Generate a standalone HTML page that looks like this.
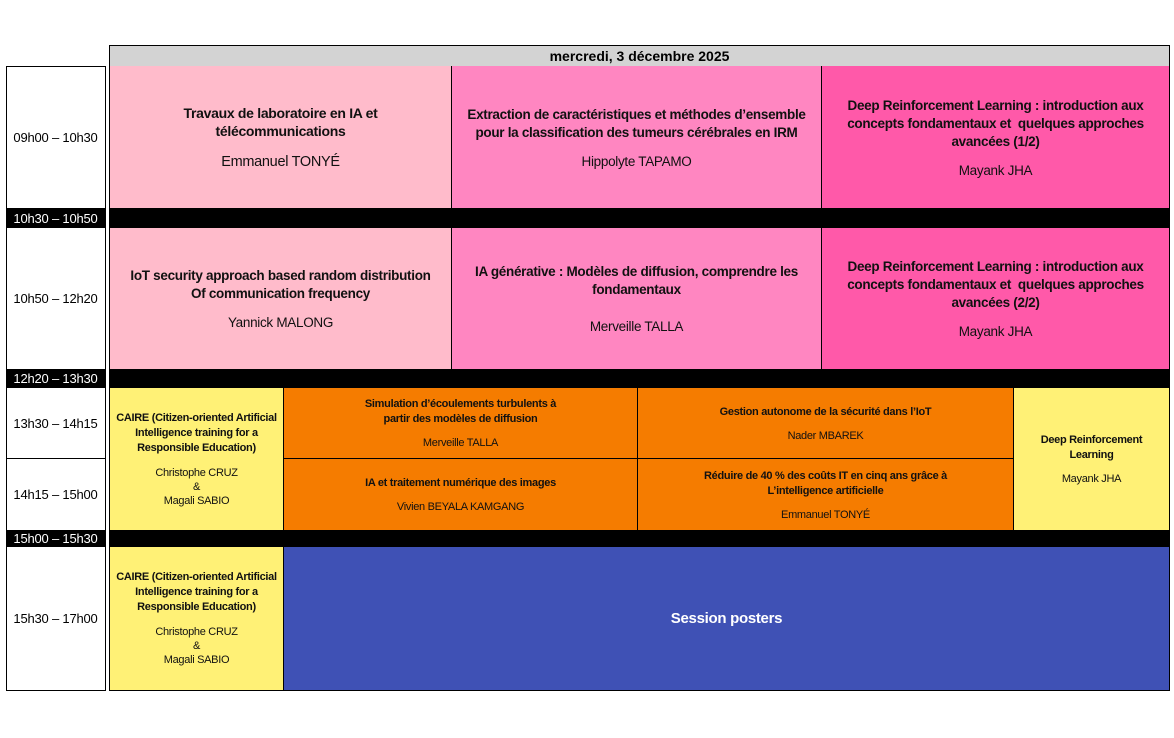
<!DOCTYPE html>
<html><head><meta charset="utf-8"><style>
*{margin:0;padding:0;box-sizing:border-box}
body{width:1174px;height:738px;background:#fff;position:relative;font-family:"Liberation Sans",sans-serif;overflow:hidden}
.a{position:absolute}
.c{position:absolute;display:flex;flex-direction:column;align-items:center;justify-content:center;text-align:center;color:#111;border-left:1px solid #000;letter-spacing:-0.3px}
.t{font-weight:bold;font-size:13.5px;line-height:18px}
.n{font-size:13.5px;margin-top:12px}
.s .t{font-size:11px;line-height:15px}
.s .n{font-size:11px;margin-top:10px}
.tm{position:absolute;left:6px;width:99px;font-size:13px;display:flex;align-items:center;justify-content:center;letter-spacing:-0.2px}
.blk{background:#000;color:#fff}
</style></head><body>
<div class="a" style="left:109px;top:45px;width:1061px;height:22px;background:#d3d3d3;border:1px solid #000;font-weight:bold;font-size:14px;text-align:center;line-height:20px">mercredi, 3 décembre 2025</div>
<div class="a" style="left:6px;top:66px;width:100px;height:625px;border:1px solid #000"></div>
<div class="tm" style="top:66px;height:142px">09h00 – 10h30</div>
<div class="tm blk" style="top:208px;height:20px">10h30 – 10h50</div>
<div class="tm" style="top:228px;height:141px">10h50 – 12h20</div>
<div class="tm blk" style="top:369px;height:19px">12h20 – 13h30</div>
<div class="tm" style="top:388px;height:71px">13h30 – 14h15</div>
<div class="a" style="left:6px;top:458px;width:99px;height:1px;background:#000"></div>
<div class="tm" style="top:459px;height:71px">14h15 – 15h00</div>
<div class="tm blk" style="top:530px;height:17px">15h00 – 15h30</div>
<div class="tm" style="top:547px;height:143px">15h30 – 17h00</div>

<div class="a" style="left:109px;top:66px;width:1061px;height:625px;border:1px solid #000;border-top:none"></div>
<div class="c" style="left:109px;top:66px;width:342px;height:142px;background:#ffbbcb"><div class="t" style="font-size:14px">Travaux de laboratoire en IA et<br>télécommunications</div><div class="n" style="font-size:14.5px;margin-top:14px">Emmanuel TONYÉ</div></div>
<div class="c" style="left:451px;top:66px;width:370px;height:142px;background:#ff86c1"><div class="t">Extraction de caractéristiques et méthodes d’ensemble<br>pour la classification des tumeurs cérébrales en IRM</div><div class="n">Hippolyte TAPAMO</div></div>
<div class="c" style="left:821px;top:66px;width:348px;height:142px;background:#ff59a9"><div class="t">Deep Reinforcement Learning : introduction aux<br>concepts fondamentaux et &nbsp;quelques approches<br>avancées (1/2)</div><div class="n">Mayank JHA</div></div>
<div class="a" style="left:109px;top:208px;width:1061px;height:20px;background:#000"></div>
<div class="c" style="left:109px;top:228px;width:342px;height:141px;background:#ffbbcb"><div class="t">IoT security approach based random distribution<br>Of communication frequency</div><div class="n">Yannick MALONG</div></div>
<div class="c" style="left:451px;top:228px;width:370px;height:141px;background:#ff86c1"><div class="t">IA générative : Modèles de diffusion, comprendre les<br>fondamentaux</div><div class="n" style="margin-top:20px">Merveille TALLA</div></div>
<div class="c" style="left:821px;top:228px;width:348px;height:141px;background:#ff59a9"><div class="t">Deep Reinforcement Learning : introduction aux<br>concepts fondamentaux et &nbsp;quelques approches<br>avancées (2/2)</div><div class="n">Mayank JHA</div></div>
<div class="a" style="left:109px;top:369px;width:1061px;height:19px;background:#000"></div>
<div class="c s" style="left:109px;top:388px;width:174px;height:142px;background:#fff176"><div class="t">CAIRE (Citizen-oriented Artificial<br>Intelligence training for a<br>Responsible Education)</div><div class="n" style="line-height:14px">Christophe CRUZ<br>&amp;<br>Magali SABIO</div></div>
<div class="c s" style="left:283px;top:388px;width:354px;height:71px;background:#f57c00;border-bottom:1px solid #000"><div class="t">Simulation d’écoulements turbulents à<br>partir des modèles de diffusion</div><div class="n">Merveille TALLA</div></div>
<div class="c s" style="left:637px;top:388px;width:376px;height:71px;background:#f57c00;border-bottom:1px solid #000"><div class="t">Gestion autonome de la sécurité dans l’IoT</div><div class="n">Nader MBAREK</div></div>
<div class="c s" style="left:283px;top:459px;width:354px;height:71px;background:#f57c00"><div class="t">IA et traitement numérique des images</div><div class="n">Vivien BEYALA KAMGANG</div></div>
<div class="c s" style="left:637px;top:459px;width:376px;height:71px;background:#f57c00"><div class="t">Réduire de 40 % des coûts IT en cinq ans grâce à<br>L’intelligence artificielle</div><div class="n">Emmanuel TONYÉ</div></div>
<div class="c s" style="left:1013px;top:388px;width:156px;height:142px;background:#fff176"><div class="t">Deep Reinforcement<br>Learning</div><div class="n">Mayank JHA</div></div>
<div class="a" style="left:109px;top:530px;width:1061px;height:17px;background:#000"></div>
<div class="c s" style="left:109px;top:547px;width:174px;height:143px;background:#fff176"><div class="t">CAIRE (Citizen-oriented Artificial<br>Intelligence training for a<br>Responsible Education)</div><div class="n" style="line-height:14px">Christophe CRUZ<br>&amp;<br>Magali SABIO</div></div>
<div class="c" style="left:283px;top:547px;width:886px;height:143px;background:#3f51b5;color:#fff"><div class="t" style="font-size:15px">Session posters</div></div>
</body></html>
